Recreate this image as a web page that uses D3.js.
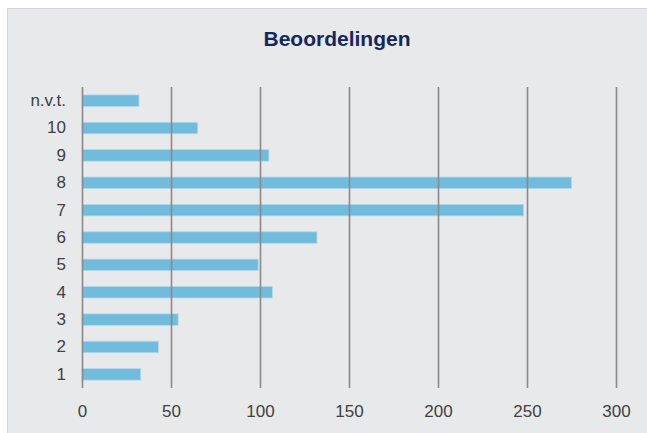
<!DOCTYPE html>
<html>
<head>
<meta charset="utf-8">
<script src="https://cdn.jsdelivr.net/npm/d3@7"></script>
<style>
  html, body { margin: 0; padding: 0; background: #ffffff; }
  svg { display: block; }
</style>
</head>
<body>
<script>
// Ratings and how often each was given
const categories = ["n.v.t.", "10", "9", "8", "7", "6", "5", "4", "3", "2", "1"];
const counts = [32, 65, 105, 275, 248, 132, 99, 107, 54, 43, 33];
const xTicks = [0, 50, 100, 150, 200, 250, 300];
const title = "Beoordelingen";

const width = 647, height = 433;
const margin = { left: 82, right: 31, top: 87, bottom: 45 };
const font = "Liberation Sans, Arial, sans-serif";

const svg = d3.select("body").append("svg")
  .attr("width", width)
  .attr("height", height);

// Panel background
svg.append("rect")
  .attr("x", 7.5).attr("y", 8.5)
  .attr("width", width).attr("height", height)
  .attr("fill", "#e8e9eb")
  .attr("stroke", "#d6d6d6")
  .attr("stroke-width", 1);

svg.append("text")
  .attr("x", 337).attr("y", 46)
  .attr("text-anchor", "middle")
  .attr("font-family", font)
  .attr("font-weight", "bold")
  .attr("font-size", 21)
  .attr("fill", "#14285e")
  .text(title);

const x = d3.scaleLinear()
  .domain([0, 300])
  .range([margin.left, width - margin.right]);

const y = d3.scaleBand()
  .domain(categories)
  .range([margin.top, height - margin.bottom])
  .paddingInner(0.58)
  .paddingOuter(0.29);

// Bars
svg.append("g")
  .selectAll("rect")
  .data(categories.map((c, i) => ({ c, v: counts[i] })))
  .join("rect")
  .attr("x", x(0))
  .attr("y", d => y(d.c))
  .attr("width", d => x(d.v) - x(0))
  .attr("height", y.bandwidth())
  .attr("fill", "#71bbdc")
  .attr("stroke", "#b3d9ec")
  .attr("stroke-width", 0.8);

// Vertical gridlines drawn over the bars
const xAxis = d3.axisBottom(x)
  .tickValues(xTicks)
  .tickSize(-(height - margin.bottom - margin.top))
  .tickPadding(17)
  .tickFormat(d3.format("d"));

const gx = svg.append("g")
  .attr("transform", `translate(0,${height - margin.bottom})`)
  .call(xAxis);
gx.select(".domain").remove();
gx.selectAll(".tick line")
  .attr("stroke", "#8a8a8a")
  .attr("stroke-width", 1.6);
gx.selectAll(".tick text")
  .attr("font-family", font)
  .attr("font-size", 17)
  .attr("fill", "#404040");

// Category labels
const yAxis = d3.axisLeft(y).tickSize(0).tickPadding(16);
const gy = svg.append("g")
  .attr("transform", `translate(${margin.left},0)`)
  .call(yAxis);
gy.select(".domain").remove();
gy.selectAll(".tick text")
  .attr("font-family", font)
  .attr("font-size", 17)
  .attr("fill", "#404040");
</script>
</body>
</html>
